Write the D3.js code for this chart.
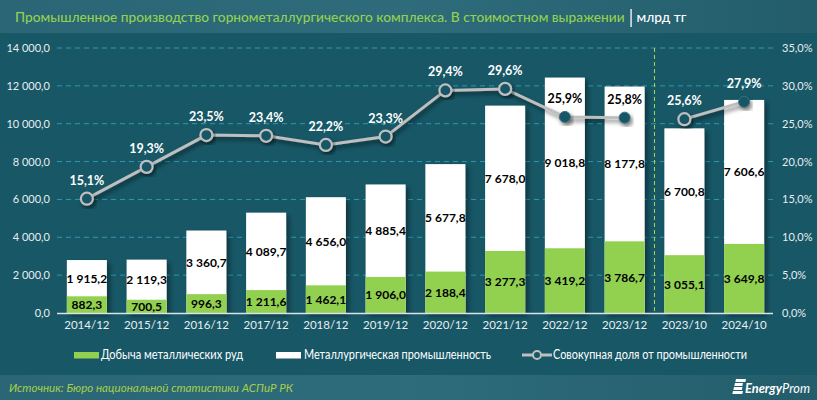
<!DOCTYPE html>
<html><head><meta charset="utf-8">
<script src="https://cdn.jsdelivr.net/npm/d3@7"></script>
<style>
body{margin:0;padding:0;background:#175766;}
svg{display:block;}
text{font-family:Lato,"Open Sans",sans-serif;}
</style></head><body>
<svg id="c" width="817" height="400"></svg>
<script>
const categories = ["2014/12","2015/12","2016/12","2017/12","2018/12","2019/12","2020/12","2021/12","2022/12","2023/12","2023/10","2024/10"];
const mining = [882.3,700.5,996.3,1211.6,1462.1,1906.0,2188.4,3277.3,3419.2,3786.7,3055.1,3649.8];
const metallurgy = [1915.2,2119.3,3360.7,4089.7,4656.0,4885.4,5677.8,7678.0,9018.8,8177.8,6700.8,7606.6];
const share = [15.1,19.3,23.5,23.4,22.2,23.3,29.4,29.6,25.9,25.8,25.6,27.9];
const leftTicks = [0,2000,4000,6000,8000,10000,12000,14000];
const rightTicks = [0,5,10,15,20,25,30,35];
const seriesNames = ["Добыча металлических руд","Металлургическая промышленность","Совокупная доля от промышленности"];
const titleText = "Промышленное производство горнометаллургического комплекса. В стоимостном выражении";
const unitText = "млрд тг";
const sourceText = "Источник: Бюро национальной статистики АСПиР РК";

const svg = d3.select("#c");
const W=817,H=400;
const fmt = v => { const s = d3.format(",.1f")(v); return s.replace(/,/g," ").replace(".",","); };
const fmtP = v => d3.format(".1f")(v).replace(".",",")+"%";

const defs = svg.append("defs");
const g1 = defs.append("linearGradient").attr("id","band").attr("x1",0).attr("x2",1);
g1.append("stop").attr("offset",0).attr("stop-color","#2a6675");
g1.append("stop").attr("offset",0.5).attr("stop-color","#2e6c7b");
g1.append("stop").attr("offset",1).attr("stop-color","#235d6b");
const sh = defs.append("filter").attr("id","sh").attr("x","-30%").attr("y","-30%").attr("width","160%").attr("height","160%");
sh.append("feDropShadow").attr("dx",3).attr("dy",3).attr("stdDeviation",2.5).attr("flood-color","#000").attr("flood-opacity",0.4);
const sh2 = defs.append("filter").attr("id","sh2").attr("x","-30%").attr("y","-30%").attr("width","160%").attr("height","160%");
sh2.append("feDropShadow").attr("dx",2).attr("dy",3).attr("stdDeviation",2).attr("flood-color","#000").attr("flood-opacity",0.5);

svg.append("rect").attr("width",W).attr("height",H).attr("fill","#175766");
svg.append("rect").attr("width",W).attr("height",33).attr("fill","url(#band)");
svg.append("rect").attr("y",375).attr("width",W).attr("height",25).attr("fill","url(#band)");

// title: size the font so its natural width fits the reference span
const tt = svg.append("text").attr("x",15).attr("y",22).attr("font-family","Roboto").attr("font-size",14).attr("font-weight",500)
  .attr("fill","#92d050").text(titleText);
const w0 = tt.node().getComputedTextLength();
tt.attr("font-size", 14*610/w0);
const tEnd = 15 + tt.node().getComputedTextLength();
svg.append("line").attr("x1",tEnd+6.5).attr("x2",tEnd+6.5).attr("y1",9).attr("y2",27).attr("stroke","#fff").attr("stroke-width",1.3);
svg.append("text").attr("x",tEnd+12).attr("y",22).attr("font-family","Roboto").attr("font-size",14*610/w0).attr("font-weight",500).attr("fill","#fff").text(unitText);

// scales
const x = d3.scaleBand().domain(categories).range([57,774]).paddingInner(0.33).paddingOuter(0.165);
const y = d3.scaleLinear().domain([0,14000]).range([313,48]);
const y2 = d3.scaleLinear().domain([0,35]).range([313,48]);

// gridlines
svg.append("g").selectAll("line").data(leftTicks.slice(1)).join("line")
  .attr("x1",57).attr("x2",773).attr("y1",d=>y(d)).attr("y2",d=>y(d))
  .attr("stroke","#2e98b0").attr("stroke-width",1).attr("stroke-dasharray","5,4");

// axes
const ax = svg.append("g").attr("transform","translate(52,0)").call(d3.axisLeft(y).tickValues(leftTicks).tickSize(0).tickPadding(2).tickFormat(fmt));
ax.select(".domain").remove();
ax.selectAll("text").attr("fill","#e8eef0").attr("font-size",11).attr("font-family","Lato");
const ax2 = svg.append("g").attr("transform","translate(780,0)").call(d3.axisRight(y2).tickValues(rightTicks).tickSize(0).tickPadding(2).tickFormat(d=>d3.format(".1f")(d).replace(".",",")+"%"));
ax2.select(".domain").remove();
ax2.selectAll("text").attr("fill","#e8eef0").attr("font-size",11).attr("font-family","Lato");
const axb = svg.append("g").attr("transform","translate(0,313)").call(d3.axisBottom(x).tickSize(0).tickPadding(8));
axb.select(".domain").remove();
axb.selectAll("text").attr("fill","#e8eef0").attr("font-size",11.5).attr("font-family","Lato");

// bars
const bars = svg.append("g");
categories.forEach((c,i)=>{
  const tot = mining[i]+metallurgy[i];
  bars.append("rect").attr("x",x(c)).attr("width",x.bandwidth()).attr("y",y(tot)).attr("height",y(0)-y(tot))
    .attr("fill","#ffffff").attr("filter","url(#sh)");
});
categories.forEach((c,i)=>{
  bars.append("rect").attr("x",x(c)).attr("width",x.bandwidth()).attr("y",y(mining[i])).attr("height",y(0)-y(mining[i]))
    .attr("fill","#92d050");
});
svg.append("line").attr("x1",57).attr("x2",773).attr("y1",313.5).attr("y2",313.5).attr("stroke","#d9e3e6").attr("stroke-width",1.3);

// bar labels
const lab = svg.append("g").attr("font-weight",700).attr("font-size",12).attr("fill","#000").attr("text-anchor","middle");
categories.forEach((c,i)=>{
  const cx = x(c)+x.bandwidth()/2;
  lab.append("text").attr("x",cx).attr("y",(y(0)+y(mining[i]))/2+4.5).text(fmt(mining[i]));
  lab.append("text").attr("x",cx).attr("y",(y(mining[i])+y(mining[i]+metallurgy[i]))/2+4.5).text(fmt(metallurgy[i]));
});

// divider
const xd = (x(categories[9])+x.bandwidth()+x(categories[10]))/2;
svg.append("line").attr("x1",xd).attr("x2",xd).attr("y1",48).attr("y2",313).attr("stroke","#a8d64a").attr("stroke-width",1).attr("stroke-dasharray","4,3");

// line
const cx = c => x(c)+x.bandwidth()/2;
const segs = [[0,10],[10,12]];
const lg = svg.append("g");
segs.forEach(([a,b])=>{
  const pts = d3.range(a,b).map(i=>[cx(categories[i]),y2(share[i])]);
  lg.append("path").attr("d",d3.line()(pts)).attr("fill","none").attr("stroke","#bfbfbf").attr("stroke-width",3).attr("filter","url(#sh2)");
});
categories.forEach((c,i)=>{
  const px=cx(c), py=y2(share[i]);
  const inBar = py > y(mining[i]+metallurgy[i]);
  lg.append("circle").attr("cx",px).attr("cy",py).attr("r",inBar?5.5:6)
    .attr("fill","#175766").attr("stroke",inBar?"#3b6f7c":"#bfbfbf").attr("stroke-width",inBar?1:2.2).attr("filter","url(#sh2)");
  const ly = py-14;
  const onBar = ly-6 > y(mining[i]+metallurgy[i]);
  lg.append("text").attr("x",px).attr("y",ly).attr("text-anchor","middle").attr("font-size",12.5).attr("font-weight",700)
    .attr("fill",onBar?"#000":"#fff").text(fmtP(share[i]));
});

// legend
const leg = svg.append("g").attr("font-size",12.5).attr("fill","#fff").attr("font-family","Roboto");
leg.append("rect").attr("x",74).attr("y",352).attr("width",25).attr("height",6.5).attr("fill","#92d050");
leg.append("text").attr("x",101).attr("y",359).attr("textLength",142).attr("lengthAdjust","spacingAndGlyphs").text(seriesNames[0]);
leg.append("rect").attr("x",276).attr("y",352).attr("width",25).attr("height",6.5).attr("fill","#fff");
leg.append("text").attr("x",304).attr("y",359).attr("textLength",187).attr("lengthAdjust","spacingAndGlyphs").text(seriesNames[1]);
leg.append("line").attr("x1",522).attr("x2",552).attr("y1",355).attr("y2",355).attr("stroke","#bfbfbf").attr("stroke-width",3);
leg.append("circle").attr("cx",537).attr("cy",355).attr("r",4).attr("fill","#175766").attr("stroke","#bfbfbf").attr("stroke-width",2);
leg.append("text").attr("x",553).attr("y",359).attr("textLength",194).attr("lengthAdjust","spacingAndGlyphs").text(seriesNames[2]);

// footer
svg.append("text").attr("x",9).attr("y",392).attr("font-size",12).attr("font-style","italic").attr("fill","#a6cf4a")
  .attr("font-family","Roboto").attr("textLength",284).attr("lengthAdjust","spacingAndGlyphs").text(sourceText);
// logo icon: slanted stripes
const logo = svg.append("g").attr("fill","#fff");
[[382,10],[386,8],[390,8.5],[394,10]].forEach(d=>{
  const yy=d[0], w=d[1], xo = 733 + (394-yy)*0.25;
  logo.append("path").attr("d",`M${xo},${yy-3} h${w} l-0.7,3 h-${w} z`);
});
const lt = svg.append("text").attr("x",745).attr("y",393).attr("font-size",13.5).attr("font-style","italic")
  .attr("fill","#fff").attr("font-family","Roboto").attr("textLength",65).attr("lengthAdjust","spacingAndGlyphs");
lt.append("tspan").attr("font-weight",700).text("Energy");
lt.append("tspan").attr("font-weight",400).text("Prom");
</script>
</body></html>
